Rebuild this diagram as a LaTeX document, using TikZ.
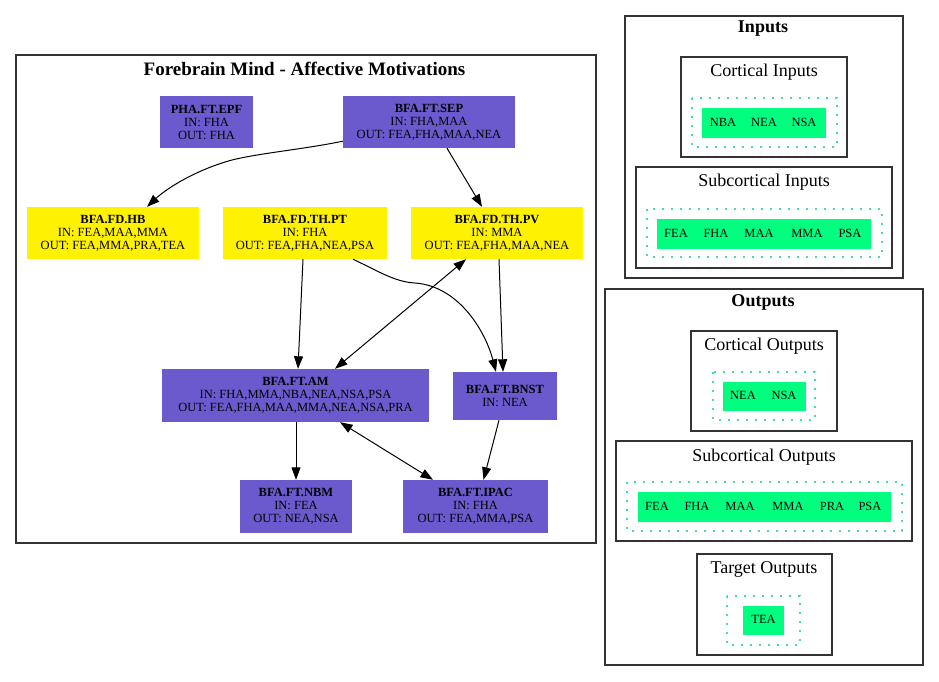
\documentclass[tikz,border=0pt]{standalone}
\usepackage{fontspec}
\setmainfont{Liberation Serif}
\usetikzlibrary{arrows.meta,calc}
\definecolor{slate}{HTML}{6A5ACD}
\definecolor{spring}{HTML}{00FF7F}
\definecolor{dotgreen}{HTML}{40E0A8}
\definecolor{frame}{gray}{0.2}
\begin{document}
\begin{tikzpicture}[x=1pt,y=-1pt,
  nodefont/.style={font=\fontsize{12.5}{13}\selectfont},
  pbox/.style={fill=slate, draw=none, align=center, inner sep=0pt, nodefont},
  ybox/.style={fill=yellow, draw=none, align=center, inner sep=0pt, nodefont},
  cluster/.style={draw=frame, line width=1.2pt},
  dotbox/.style={draw=dotgreen, line width=1.7pt, dash pattern=on 1.7pt off 7.3pt},
  gbox/.style={fill=spring, draw=none},
  glabel/.style={font=\fontsize{12.5}{13}\selectfont, inner sep=0pt},
  ctitle/.style={font=\fontsize{18}{20}\selectfont, inner sep=0pt},
  btitle/.style={font=\fontsize{18}{20}\selectfont\bfseries, inner sep=0pt},
  arr/.style={-{Triangle[length=12.5pt,width=9pt]}, line width=1pt},
  biarr/.style={{Triangle[length=12.5pt,width=9pt]}-{Triangle[length=12.5pt,width=9pt]}, line width=1pt}]
\useasboundingbox (0,0) rectangle (939,681);
\fill[white] (0,0) rectangle (939,681);

% ---------- main cluster ----------
\draw[cluster] (16,55) rectangle (596,543);
\node[btitle, font=\fontsize{19}{21}\selectfont\bfseries] (maintitle) at (304.5,69) {Forebrain Mind - Affective Motivations};

\node[pbox, minimum width=93pt, minimum height=52pt] (epf) at (206.5,122) {\textbf{PHA.FT.EPF}\\IN: FHA\\OUT: FHA};
\node[pbox, minimum width=172pt, minimum height=52pt] (sep) at (429,122) {\textbf{BFA.FT.SEP}\\IN: FHA,MAA\\OUT: FEA,FHA,MAA,NEA};
\node[ybox, minimum width=172pt, minimum height=52pt] (hb) at (113,233) {\textbf{BFA.FD.HB}\\IN: FEA,MAA,MMA\\OUT: FEA,MMA,PRA,TEA};
\node[ybox, minimum width=164pt, minimum height=52pt] (pt) at (305,233) {\textbf{BFA.FD.TH.PT}\\IN: FHA\\OUT: FEA,FHA,NEA,PSA};
\node[ybox, minimum width=172pt, minimum height=52pt] (pv) at (497,233) {\textbf{BFA.FD.TH.PV}\\IN: MMA\\OUT: FEA,FHA,MAA,NEA};
\node[pbox, minimum width=267pt, minimum height=53pt] (am) at (295.5,395.5) {\textbf{BFA.FT.AM}\\IN: FHA,MMA,NBA,NEA,NSA,PSA\\OUT: FEA,FHA,MAA,MMA,NEA,NSA,PRA};
\node[pbox, minimum width=104pt, minimum height=48pt] (bnst) at (505,396) {\textbf{BFA.FT.BNST}\\IN: NEA};
\node[pbox, minimum width=112pt, minimum height=53pt] (nbm) at (296,506.5) {\textbf{BFA.FT.NBM}\\IN: FEA\\OUT: NEA,NSA};
\node[pbox, minimum width=145pt, minimum height=53pt] (ipac) at (475.5,506.5) {\textbf{BFA.FT.IPAC}\\IN: FHA\\OUT: FEA,MMA,PSA};

% edges
\draw[arr] ([yshift=7pt]sep.south west) .. controls (300,150) and (250,154) .. (225,162)
  .. controls (190,173) and (165,190) .. ([xshift=34pt]hb.north);
\draw[arr] ([xshift=18pt]sep.south) -- ([xshift=-15pt]pv.north);
\draw[arr] ([xshift=-2pt]pt.south) -- ([xshift=2.5pt]am.north);
\draw[arr] ([xshift=48pt]pt.south) .. controls (378,271) and (395,282) .. (415,283)
  .. controls (458,286) and (485,330) .. ([xshift=-9pt]bnst.north);
\draw[biarr] ([xshift=-31pt]pv.south) -- ([xshift=39.5pt]am.north);
\draw[arr] ([xshift=2pt]pv.south) -- ([xshift=-2pt]bnst.north);
\draw[arr] (am.south -| nbm.north) -- (nbm.north);
\draw[biarr] ([xshift=44.5pt]am.south) -- ([xshift=-42.5pt]ipac.north);
\draw[arr] ([xshift=-6pt]bnst.south) -- ([xshift=8pt]ipac.north);

% ---------- Inputs ----------
\draw[cluster] (625,16) rectangle (903,278);
\node[btitle] (intitle) at (763,29) {Inputs};

\draw[cluster] (681,57) rectangle (847,157);
\node[ctitle] (cititle) at (764,72) {Cortical Inputs};
\draw[dotbox] (692,98) rectangle (837,147);
\node[gbox, minimum width=124pt, minimum height=30pt] (cig) at (764,123) {};
\node[glabel] (ci1) at (723,122) {NBA};
\node[glabel] (ci2) at (764,122) {NEA};
\node[glabel] (ci3) at (804,122) {NSA};

\draw[cluster] (636,167) rectangle (892,268);
\node[ctitle] (sititle) at (764,182) {Subcortical Inputs};
\draw[dotbox] (647,209) rectangle (882,257);
\node[gbox, minimum width=214pt, minimum height=30pt] (sig) at (764,234) {};
\node[glabel] (si1) at (676,233) {FEA};
\node[glabel] (si2) at (716,233) {FHA};
\node[glabel] (si3) at (759,233) {MAA};
\node[glabel] (si4) at (807,233) {MMA};
\node[glabel] (si5) at (850,233) {PSA};

% ---------- Outputs ----------
\draw[cluster] (605,289) rectangle (923,665);
\node[btitle] (outtitle) at (763,302) {Outputs};

\draw[cluster] (691,331) rectangle (837,431);
\node[ctitle] (cotitle) at (764,346) {Cortical Outputs};
\draw[dotbox] (713,372) rectangle (815,420);
\node[gbox, minimum width=83pt, minimum height=29pt] (cog) at (764.5,396.5) {};
\node[glabel] (co1) at (743,395) {NEA};
\node[glabel] (co2) at (784,395) {NSA};

\draw[cluster] (616,441) rectangle (912,541);
\node[ctitle] (sotitle) at (764,457) {Subcortical Outputs};
\draw[dotbox] (627,482) rectangle (902,531);
\node[gbox, minimum width=253pt, minimum height=30pt] (sog) at (764.5,507) {};
\node[glabel] (so1) at (657,506) {FEA};
\node[glabel] (so2) at (697,506) {FHA};
\node[glabel] (so3) at (740,506) {MAA};
\node[glabel] (so4) at (788,506) {MMA};
\node[glabel] (so5) at (832,506) {PRA};
\node[glabel] (so6) at (870,506) {PSA};

\draw[cluster] (697,554) rectangle (832,655);
\node[ctitle] (totitle) at (764,569) {Target Outputs};
\draw[dotbox] (727,596) rectangle (800,645);
\node[gbox, minimum width=41pt, minimum height=29pt] (tog) at (763.5,620.5) {};
\node[glabel] (to1) at (763.5,619) {TEA};
\end{tikzpicture}
\end{document}
